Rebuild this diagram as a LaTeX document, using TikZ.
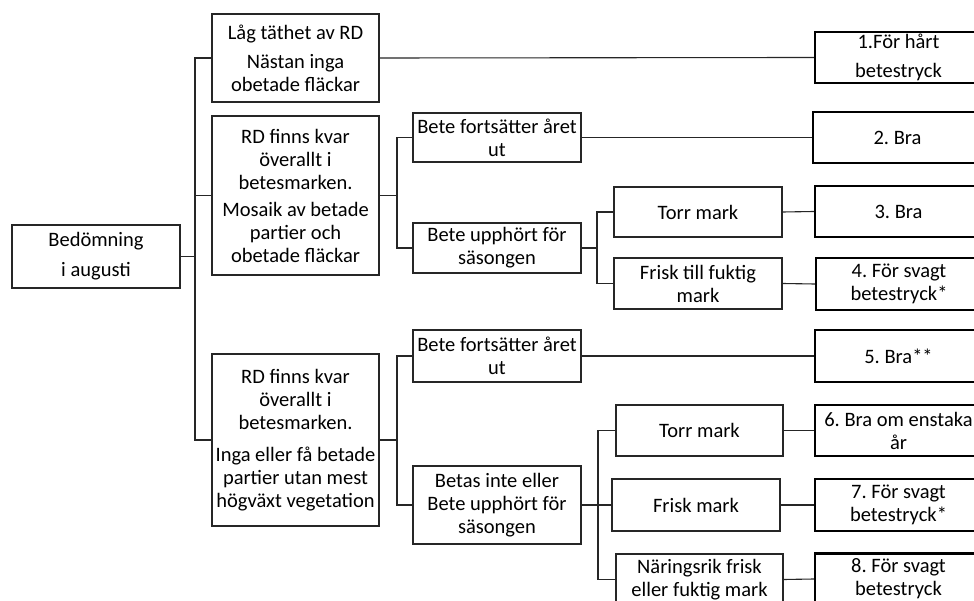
\documentclass[tikz,border=0pt]{standalone}
\usepackage{fontspec}
\setmainfont{Carlito}
\begin{document}
\frenchspacing
\begin{tikzpicture}[x=1pt,y=-1pt,
  box/.style={draw=black!85, line width=1.1pt, inner sep=0pt, align=center,
    font=\fontsize{20.5}{23}\selectfont, fill=white},
  rbox/.style={box, draw=black, line width=2.2pt},
  conn/.style={draw=black!85, line width=1.1pt}]
\useasboundingbox (0,0) rectangle (974,601);
\clip (0,0) rectangle (974,601);
\fill[white] (0,0) rectangle (974,601);
% first column
\node[box, minimum width=168pt, minimum height=63pt] (root) at (96,256.5)
  {Bedömning\\[7pt]i augusti};
% second column
\node[box, minimum width=167pt, minimum height=88pt] (A) at (295.5,58)
  {Låg täthet av RD\\[6pt]Nästan inga\\obetade fläckar};
\node[box, minimum width=167pt, minimum height=159pt] (B) at (295.5,195.5)
  {RD finns kvar\\överallt i\\betesmarken.\\[4pt]Mosaik av betade\\partier och\\obetade fläckar};
\node[box, minimum width=167pt, minimum height=172pt] (C) at (295.5,440)
  {RD finns kvar\\överallt i\\betesmarken.\\[9pt]Inga eller få betade\\partier utan mest\\högväxt vegetation};
% third column
\node[box, minimum width=168pt, minimum height=49pt] (B1) at (497,137.5)
  {Bete fortsätter året\\ut};
\node[box, minimum width=168pt, minimum height=50pt] (B2) at (497,248)
  {Bete upphört för\\säsongen};
\node[box, minimum width=168pt, minimum height=52pt] (C1) at (497,356)
  {Bete fortsätter året\\ut};
\node[box, minimum width=168pt, minimum height=78pt] (C2) at (497,505)
  {Betas inte eller\\Bete upphört för\\säsongen};
% fourth column
\node[box, minimum width=168pt, minimum height=50pt] (B2a) at (698,212)
  {Torr mark};
\node[box, minimum width=168pt, minimum height=51pt] (B2b) at (698,283.5)
  {Frisk till fuktig\\mark};
\node[box, minimum width=167pt, minimum height=51pt] (C2a) at (699.5,430.5)
  {Torr mark};
\node[box, minimum width=168pt, minimum height=52pt] (C2b) at (696,505)
  {Frisk mark};
\node[box, minimum width=167pt, minimum height=51pt] (C2c) at (699.5,579.5)
  {Näringsrik frisk\\eller fuktig mark};
% results
\node[rbox, minimum width=167pt, minimum height=51pt] (R1) at (898.5,57.5)
  {1.För hårt\\[6pt]betestryck};
\node[rbox, minimum width=169pt, minimum height=51pt] (R2) at (897.5,137.5)
  {2. Bra};
\node[rbox, minimum width=167pt, minimum height=51pt] (R3) at (898.5,211.5)
  {3. Bra};
\node[rbox, minimum width=166pt, minimum height=52pt] (R4) at (899,284)
  {4. För svagt\\betestryck*};
\node[rbox, minimum width=167pt, minimum height=52pt] (R5) at (898.5,356)
  {5. Bra**};
\node[rbox, minimum width=167pt, minimum height=51pt] (R6) at (898.5,430.5)
  {6. Bra om enstaka\\år};
\node[rbox, minimum width=167pt, minimum height=52pt] (R7) at (898.5,505)
  {7. För svagt\\betestryck*};
\node[rbox, minimum width=167pt, minimum height=51pt] (R8) at (898.5,579)
  {8. För svagt\\betestryck};
% spine coordinates
\coordinate (s1) at (195,0);
\coordinate (s2) at (397,0);
\coordinate (s3) at (597,0);
\coordinate (s4) at (397,0);
\coordinate (s5) at (598,0);
% connectors
\draw[conn] (root.east) -- (root.east -| s1);
\draw[conn] (A.west) -- (A.west -| s1) -- (C.west -| s1) -- (C.west);
\draw[conn] (B.west) -- (B.west -| s1);
\draw[conn] (B.east) -- (B.east -| s2);
\draw[conn] (B1.west) -- (B1.west -| s2) -- (B2.west -| s2) -- (B2.west);
\draw[conn] (B2.east) -- (B2.east -| s3);
\draw[conn] (B2a.west) -- (B2a.west -| s3) -- (B2b.west -| s3) -- (B2b.west);
\draw[conn] (C.east) -- (C.east -| s4);
\draw[conn] (C1.west) -- (C1.west -| s4) -- (C2.west -| s4) -- (C2.west);
\draw[conn] (C2.east) -- (C2b.west);
\draw[conn] (C2a.west) -- (C2a.west -| s5) -- (C2c.west -| s5) -- (C2c.west);
\draw[conn] (A.east) -- (R1.west);
\draw[conn] (B1.east) -- (R2.west);
\draw[conn] (B2a.east) -- (R3.west);
\draw[conn] (B2b.east) -- (R4.west);
\draw[conn] (C1.east) -- (R5.west);
\draw[conn] (C2a.east) -- (R6.west);
\draw[conn] (C2b.east) -- (R7.west);
\draw[conn] (C2c.east) -- (R8.west);
\end{tikzpicture}
\end{document}
